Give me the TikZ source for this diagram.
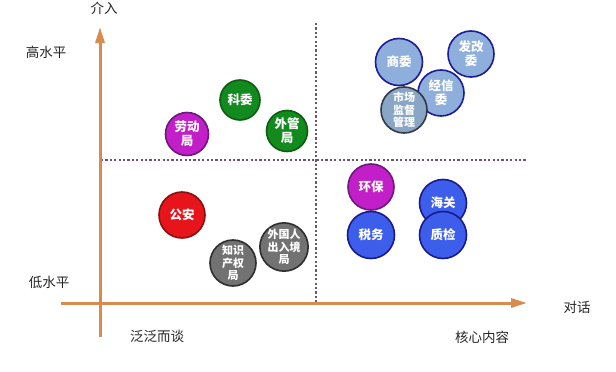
\documentclass[tikz,border=0pt]{standalone}
\usepackage{fontspec}
\setmainfont{Noto Sans CJK SC}
\usetikzlibrary{arrows.meta}
\definecolor{axisc}{HTML}{D98B4E}
\definecolor{dotc}{HTML}{6E5470}
\definecolor{grnf}{HTML}{138A1E}
\definecolor{grnd}{HTML}{0C5C12}
\definecolor{magf}{HTML}{C21FC8}
\definecolor{magd}{HTML}{6A1A7A}
\definecolor{redf}{HTML}{E8141B}
\definecolor{redd}{HTML}{8A1010}
\definecolor{gryf}{HTML}{727272}
\definecolor{gryd}{HTML}{2E2E2E}
\definecolor{lbf}{HTML}{8EAEDC}
\definecolor{lbd}{HTML}{1C1C96}
\definecolor{mkf}{HTML}{8AA6C6}
\definecolor{mkd}{HTML}{333844}
\definecolor{blf}{HTML}{3D5EEA}
\definecolor{bld}{HTML}{1A1A90}
\tikzset{
  ax/.style={draw=axisc, line width=3pt, -{Triangle[length=16pt,width=9pt]}},
  dotline/.style={draw=dotc, line width=2.2pt, dash pattern=on 2.2pt off 2.2pt},
  lab/.style={font=\fontsize{13.5}{14}\selectfont, text=black!85},
  org/.style={circle, minimum size=46pt, inner sep=0pt, line width=1.6pt, text=white,
    font=\fontsize{12.5}{14}\selectfont\bfseries, align=center},
  green/.style={org, fill=grnf, draw=grnd},
  mag/.style={org, fill=magf, draw=magd},
  redc/.style={org, fill=redf, draw=redd},
  grayc/.style={org, fill=gryf, draw=gryd, font=\fontsize{11}{12.5}\selectfont\bfseries},
  lblue/.style={org, fill=lbf, draw=lbd, minimum size=47pt},
  mkt/.style={org, fill=mkf, draw=mkd, minimum size=46pt, font=\fontsize{11}{12.5}\selectfont\bfseries},
  blue/.style={org, fill=blf, draw=bld, minimum size=47pt},
}
\begin{document}
\begin{tikzpicture}[x=1pt,y=-1pt]
\useasboundingbox[fill=white] (0,0) rectangle (616,372);
% dotted quadrant lines
\coordinate (vt) at (316,23);
\coordinate (vb) at (316,304);
\coordinate (hl) at (101,160);
\coordinate (hr) at (527,160);
\draw[dotline] (vt) -- (vb);
\draw[dotline] (hl) -- (hr);
% axes
\coordinate (ys) at (100,337);
\coordinate (ye) at (100,27);
\coordinate (xs) at (61,303);
\coordinate (xe) at (527,303);
\draw[ax] (ys) -- (ye);
\draw[ax] (xs) -- (xe);
% labels
\node[lab] (jr) at (104,8) {介入};
\node[lab] (gsp) at (46,52) {高水平};
\node[lab] (dsp) at (49,282) {低水平};
\node[lab] (ffet) at (157,336) {泛泛而谈};
\node[lab] (hxnr) at (482,337) {核心内容};
\node[lab] (dh) at (577,307) {对话};
% upper-left
\node[green, minimum size=40pt] (kw) at (240,100) {科委};
\node[mag, minimum size=43pt] (ldj) at (187,134) {劳动\\局};
\node[green, minimum size=41pt] (wgj) at (287,131) {外管\\局};
% lower-left
\node[redc] (ga) at (182,215) {公安};
\node[grayc] (wgr) at (284,247) {外国人\\出入境\\局};
\node[grayc] (zscq) at (233,263) {知识\\产权\\局};
% upper-right
\node[lblue] (sw) at (399,62) {商委};
\node[lblue, minimum size=46pt] (fgw) at (471,54) {发改\\委};
\node[lblue, minimum size=46pt] (jxw) at (441,93) {经信\\委};
\node[mkt] (scjd) at (404,110) {市场\\监督\\管理};
% lower-right
\node[mag] (hb) at (371,187) {环保};
\node[blue] (hg) at (443,203) {海关};
\node[blue] (sw2) at (371,235) {税务};
\node[blue] (zj) at (443,235) {质检};
\end{tikzpicture}
\end{document}
